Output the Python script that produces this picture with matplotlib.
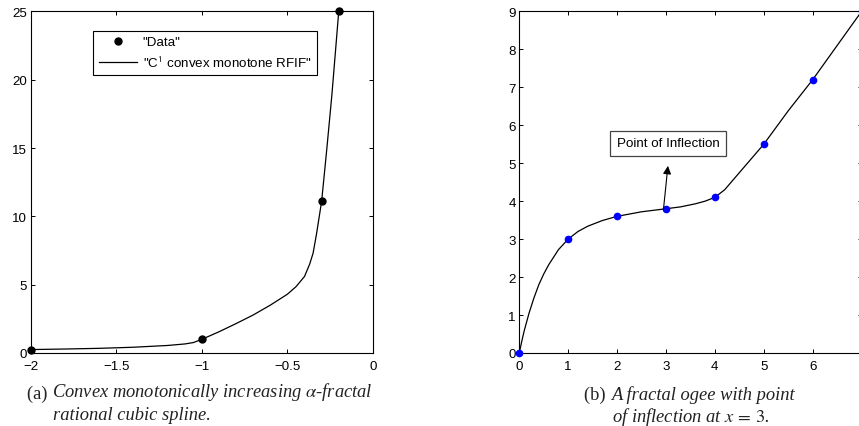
#!/usr/bin/env python

import matplotlib
matplotlib.use("Agg")
import matplotlib.pyplot as plt
from matplotlib.lines import Line2D

# ---- panel (a): data points and the RFIF curve
a_data_x = [-2.0, -1.0, -0.3, -0.2]
a_data_y = [0.25, 1.0, 11.1, 25.0]
a_curve_x = [-2.0, -1.8, -1.6, -1.4, -1.2, -1.1, -1.05, -1.0, -0.9, -0.8, -0.7,
             -0.6, -0.5, -0.45, -0.4, -0.37, -0.35, -0.33, -0.3, -0.27, -0.24, -0.2]
a_curve_y = [0.25, 0.29, 0.34, 0.42, 0.55, 0.66, 0.76, 1.0, 1.55, 2.15, 2.78,
             3.5, 4.3, 4.85, 5.6, 6.5, 7.3, 8.7, 11.1, 14.9, 18.9, 25.0]
a_xticks = [-2, -1.5, -1, -0.5, 0]
a_xlabels = ['\u22122', '\u22121.5', '\u22121', '\u22120.5', '0']
a_yticks = [0, 5, 10, 15, 20, 25]

# ---- panel (b): ogee data points and curve
b_data_x = [0, 1, 2, 3, 4, 5, 6, 7]
b_data_y = [0, 3.0, 3.6, 3.8, 4.1, 5.5, 7.2, 9.0]
b_curve_x = [0, 0.05, 0.1, 0.2, 0.3, 0.4, 0.5, 0.6, 0.8, 1.0, 1.2, 1.4, 1.7, 2.0,
             2.5, 3.0, 3.3, 3.6, 3.8, 4.0, 4.2, 4.5, 5.0, 5.5, 6.0, 6.5, 7.0]
b_curve_y = [0, 0.3, 0.58, 1.05, 1.45, 1.8, 2.08, 2.32, 2.72, 3.0, 3.2, 3.34, 3.49, 3.6,
             3.72, 3.8, 3.85, 3.93, 4.0, 4.1, 4.3, 4.75, 5.5, 6.38, 7.2, 8.1, 9.0]
b_xticks = [0, 1, 2, 3, 4, 5, 6, 7]
b_xlabels = ['0', '1', '2', '3', '4', '5', '6', '']  # "7" falls off the page
b_yticks = [0, 1, 2, 3, 4, 5, 6, 7, 8, 9]

plt.rcParams['font.family'] = ['Liberation Sans', 'DejaVu Sans']
plt.rcParams['mathtext.fontset'] = 'stix'

FS = 9.6       # axis / legend text
CAP = 13.3     # caption text
CAP_COLOR = '#222222'

fig = plt.figure(figsize=(8.59, 4.27), dpi=100)
ax1 = fig.add_axes([0.0357, 0.171, 0.3985, 0.800])
ax2 = fig.add_axes([0.6045, 0.171, 0.3985, 0.800])


def style_axes(ax):
    for s in ax.spines.values():
        s.set_linewidth(0.8)
    ax.tick_params(direction='in', length=3, width=0.7, top=True, right=True,
                   labelsize=FS)
    ax.tick_params(axis='y', pad=2.5)
    ax.tick_params(axis='x', pad=5)


# panel (a)
ax1.plot(a_curve_x, a_curve_y, color='black', lw=0.9)
ax1.plot(a_data_x, a_data_y, 'o', color='black', ms=5, clip_on=False, zorder=3)
ax1.set_xlim(-2, 0)
ax1.set_ylim(0, 25)
ax1.set_xticks(a_xticks)
ax1.set_xticklabels(a_xlabels)
ax1.set_yticks(a_yticks)
style_axes(ax1)

handles = [Line2D([], [], marker='o', ls='none', color='black', ms=5),
           Line2D([], [], color='black', lw=0.9)]
leg = ax1.legend(handles, ['"Data"', '"C$^{\\mathsf{1}}$ convex monotone RFIF"'],
                 loc='upper left', bbox_to_anchor=(0.183, 0.944), fontsize=FS,
                 fancybox=False, edgecolor='black', framealpha=1, borderpad=0.4,
                 handlelength=2.9, handletextpad=0.4, labelspacing=0.5,
                 borderaxespad=0)
leg.get_frame().set_linewidth(0.8)

# panel (b)
ax2.plot(b_curve_x, b_curve_y, color='black', lw=0.9)
ax2.plot(b_data_x, b_data_y, 'o', color='#0000ff', ms=4.5, clip_on=False, zorder=3)
ax2.set_xlim(0, 7)
ax2.set_ylim(0, 9)
ax2.set_xticks(b_xticks)
ax2.set_xticklabels(b_xlabels)
ax2.set_yticks(b_yticks)
style_axes(ax2)

ax2.annotate('', xy=(3.04, 4.93), xytext=(2.95, 3.8),
             arrowprops=dict(arrowstyle='-|>', color='black', lw=0.8,
                             mutation_scale=12, shrinkA=0, shrinkB=0))
ax2.text(2.0, 5.52, 'Point of Inflection', fontsize=FS, va='center', ha='left',
         bbox=dict(boxstyle='square,pad=0.5', fc='white', ec='#444444', lw=0.9))

# captions
serif = 'Liberation Serif'
cap_a = fig.text(26.7 / 859, 1 - 399 / 427, '(a) ', family=serif, fontsize=CAP,
                 va='baseline', color=CAP_COLOR)
ax1.annotate('Convex monotonically increasing $\\alpha$-fractal', xy=(1, 0),
             xycoords=cap_a, va='bottom', ha='left', family=serif, style='italic',
             fontsize=CAP, color=CAP_COLOR, annotation_clip=False)
fig.text(53.3 / 859, 1 - 420.5 / 427, 'rational cubic spline.', family=serif,
         style='italic', fontsize=CAP, va='baseline', color=CAP_COLOR)

cap_b = fig.text(584.3 / 859, 1 - 400 / 427, '(b) ', family=serif, fontsize=CAP,
                 va='baseline', color=CAP_COLOR)
ax2.annotate('A fractal ogee with point', xy=(1, 0), xycoords=cap_b,
             va='bottom', ha='left', family=serif, style='italic', fontsize=CAP,
             color=CAP_COLOR, annotation_clip=False)
fig.text(611.7 / 859, 1 - 422 / 427, 'of inflection at $x\\,=\\,3$.', family=serif,
         style='italic', fontsize=CAP, va='baseline', color=CAP_COLOR)

fig.savefig('out.png', dpi=100)
